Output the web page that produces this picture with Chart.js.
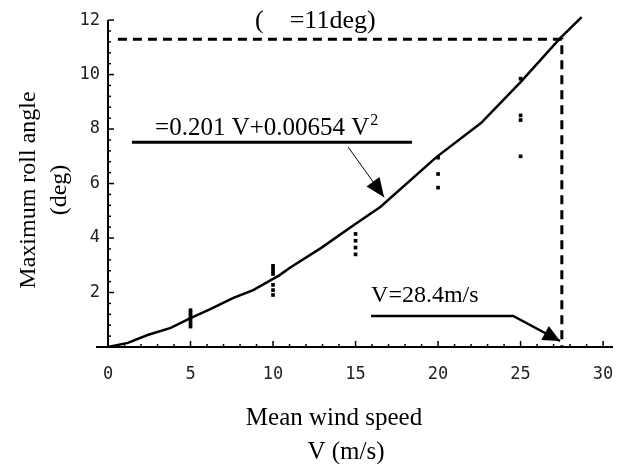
<!DOCTYPE html>
<html>
<head>
<meta charset="utf-8">
<script src="https://cdn.jsdelivr.net/npm/chart.js@4"></script>
<style>
  html, body { margin: 0; padding: 0; background: #fff; }
  #wrap { width: 623px; height: 464px; }
</style>
</head>
<body>
<div id="wrap"><canvas id="chart" width="623" height="464"></canvas></div>
<script>
// simulated max roll angle curve
const curveV = [0, 1.2, 2.4, 3.8, 5.0, 6.2, 7.6, 8.8, 10.4, 11.0, 12.9, 14.9, 16.5, 19.9, 22.6, 25.0, 27.4, 28.7];
const curveAngle = [0, 0.15, 0.44, 0.70, 1.06, 1.39, 1.80, 2.09, 2.64, 2.90, 3.63, 4.48, 5.14, 6.97, 8.22, 9.72, 11.34, 12.11];

// measured maxima, several runs per wind speed
const measV = [5, 5, 5, 5, 5, 5, 5, 10, 10, 10, 10, 10, 10, 10, 15, 15, 15, 15, 20, 20, 20, 25, 25, 25, 25];
const measAngle = [1.35, 1.25, 1.15, 1.05, 0.95, 0.85, 0.75, 2.98, 2.88, 2.78, 2.68, 2.28, 2.09, 1.91, 4.15, 3.9, 3.65, 3.4, 6.95, 6.35, 5.85, 9.85, 8.5, 8.33, 7.0];

// dashed guide to the design point
const guideV = [0.6, 27.5, 27.5];
const guideAngle = [11.3, 11.3, 0];

const xTicks = [0, 5, 10, 15, 20, 25, 30];
const yTicks = [2, 4, 6, 8, 10, 12];

const toPts = (xs, ys) => xs.map((v, i) => ({ x: v, y: ys[i] }));

const serif = '"Liberation Serif", "Times New Roman", serif';

function line(ctx, x1, y1, x2, y2) {
  ctx.beginPath();
  ctx.moveTo(x1, y1);
  ctx.lineTo(x2, y2);
  ctx.stroke();
}

function arrowHead(ctx, fx, fy, tx, ty, len, half) {
  const a = Math.atan2(ty - fy, tx - fx);
  ctx.beginPath();
  ctx.moveTo(tx, ty);
  ctx.lineTo(tx - len * Math.cos(a) + half * Math.sin(a), ty - len * Math.sin(a) - half * Math.cos(a));
  ctx.lineTo(tx - len * Math.cos(a) - half * Math.sin(a), ty - len * Math.sin(a) + half * Math.cos(a));
  ctx.closePath();
  ctx.fill();
}

const axesPlugin = {
  id: 'axesPlugin',
  beforeDatasetsDraw(chart) {
    const ctx = chart.ctx;
    const sx = chart.scales.x, sy = chart.scales.y;
    const x0 = sx.getPixelForValue(0), y0 = sy.getPixelForValue(0);
    ctx.save();
    ctx.strokeStyle = '#000';
    ctx.lineWidth = 2;
    line(ctx, x0 - 12, y0, sx.right, y0);
    line(ctx, x0, y0, x0, sy.getPixelForValue(12));
    ctx.lineWidth = 1.5;
    for (let v = 0; v <= 30; v++) {
      const px = sx.getPixelForValue(v);
      line(ctx, px, y0, px, y0 - (v % 5 === 0 ? 6 : 3));
    }
    for (let i = 0; i <= 30; i++) {
      const py = sy.getPixelForValue(i * 0.4);
      line(ctx, x0, py, x0 + (i % 5 === 0 ? 6 : 3), py);
    }
    ctx.fillStyle = '#222';
    ctx.font = '17px "DejaVu Sans Mono"';
    ctx.textAlign = 'center';
    ctx.textBaseline = 'middle';
    xTicks.forEach(v => ctx.fillText(String(v), sx.getPixelForValue(v), y0 + 28));
    ctx.textAlign = 'right';
    yTicks.forEach(v => ctx.fillText(String(v), x0 - 8, sy.getPixelForValue(v)));
    ctx.restore();
  },
  afterDraw(chart) {
    const ctx = chart.ctx;
    const sx = chart.scales.x, sy = chart.scales.y;
    const P = (v, a) => [sx.getPixelForValue(v), sy.getPixelForValue(a)];
    ctx.save();
    ctx.fillStyle = '#000';
    ctx.strokeStyle = '#000';
    ctx.textBaseline = 'alphabetic';
    ctx.textAlign = 'left';

    // title
    ctx.font = '26px ' + serif;
    let p = P(8.91, 11.7);
    ctx.fillText('(    =11deg)', p[0], p[1]);

    // formula
    p = P(2.85, 7.78);
    ctx.font = '25px ' + serif;
    const f1 = '=0.201 V+0.00654 V';
    ctx.fillText(f1, p[0], p[1]);
    const w1 = ctx.measureText(f1).width;
    ctx.font = '16px ' + serif;
    ctx.fillText('2', p[0] + w1 + 1, p[1] - 10);
    ctx.lineWidth = 3;
    let a = P(1.45, 7.52), b = P(18.42, 7.52);
    line(ctx, a[0], a[1], b[0], b[1]);
    ctx.lineWidth = 1;
    a = P(14.55, 7.34); b = P(16.73, 5.5);
    line(ctx, a[0], a[1], b[0], b[1]);
    arrowHead(ctx, a[0], a[1], b[0], b[1], 19, 8);

    // design speed
    ctx.font = '24px ' + serif;
    p = P(15.94, 1.65);
    ctx.fillText('V=28.4m/s', p[0], p[1]);
    ctx.lineWidth = 2.5;
    a = P(15.94, 1.14); b = P(24.55, 1.14);
    const c = P(27.39, 0.22);
    ctx.beginPath();
    ctx.moveTo(a[0], a[1]);
    ctx.lineTo(b[0], b[1]);
    ctx.lineTo(c[0], c[1]);
    ctx.stroke();
    arrowHead(ctx, b[0], b[1], c[0], c[1], 17, 8);

    // axis titles
    ctx.font = '25px ' + serif;
    ctx.textAlign = 'center';
    ctx.fillText('Mean wind speed', 334, 425);
    ctx.fillText('V (m/s)', 346, 459);
    ctx.font = '24px ' + serif;
    ctx.save();
    ctx.translate(35, 190);
    ctx.rotate(-Math.PI / 2);
    ctx.fillText('Maximum roll angle', 0, 0);
    ctx.restore();
    ctx.save();
    ctx.translate(66, 190);
    ctx.rotate(-Math.PI / 2);
    ctx.fillText('(deg)', 0, 0);
    ctx.restore();
    ctx.restore();
  }
};

new Chart(document.getElementById('chart'), {
  type: 'scatter',
  data: {
    datasets: [
      {
        data: toPts(guideV, guideAngle),
        showLine: true,
        borderColor: '#000',
        borderWidth: 3,
        borderDash: [9, 6],
        pointRadius: 0
      },
      {
        data: toPts(curveV, curveAngle),
        showLine: true,
        borderColor: '#000',
        borderWidth: 2.5,
        pointRadius: 0,
        clip: false
      },
      {
        data: toPts(measV, measAngle),
        backgroundColor: '#000',
        borderWidth: 0,
        pointStyle: 'rect',
        pointRadius: 2.6
      }
    ]
  },
  options: {
    responsive: false,
    animation: false,
    layout: { padding: { left: 108, right: 10, top: 16, bottom: 117 } },
    plugins: { legend: { display: false }, tooltip: { enabled: false } },
    scales: {
      x: { type: 'linear', min: 0, max: 30.6, display: false },
      y: { type: 'linear', min: 0, max: 12.15, display: false }
    }
  },
  plugins: [axesPlugin]
});
</script>
</body>
</html>
